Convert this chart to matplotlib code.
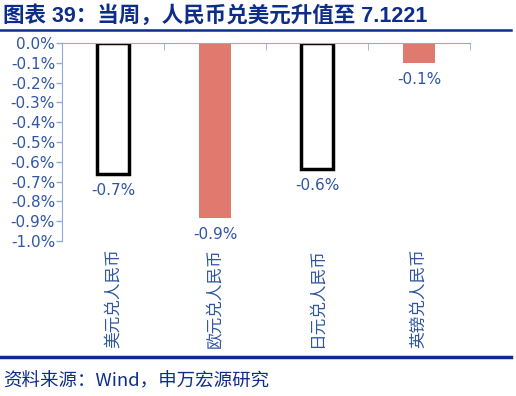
import matplotlib
matplotlib.use('Agg')
import matplotlib.pyplot as plt
import numpy as np

plt.rcParams['font.family'] = ['DejaVu Sans', 'Noto Sans CJK SC']

categories = ['美元兑人民币', '欧元兑人民币', '日元兑人民币', '英镑兑人民币']
values = [-0.66, -0.885, -0.635, -0.10]
labels = ['-0.7%', '-0.9%', '-0.6%', '-0.1%']
hollow = [True, False, True, False]
yticks = [0.0, -0.1, -0.2, -0.3, -0.4, -0.5, -0.6, -0.7, -0.8, -0.9, -1.0]

title_color = '#0C2D8A'
tick_color = '#2F55A4'
axis_color = '#8FAADC'
salmon = '#E07A6E'

fig = plt.figure(figsize=(5.16, 3.96), dpi=100)
ax = fig.add_axes([62 / 516, 1 - 241 / 396, (470 - 62) / 516, (241 - 43) / 396])

x = np.arange(len(categories))
for xi, v, h, lab in zip(x, values, hollow, labels):
    if h:
        ax.bar(xi, v, width=0.32, color='white', edgecolor='black', linewidth=2.5)
    else:
        ax.bar(xi, v, width=0.32, color=salmon, edgecolor='none')
    ax.text(xi, v - 0.045, lab, ha='center', va='top', fontsize=11, color=tick_color)

ax.set_xlim(-0.5, len(categories) - 0.5)
ax.set_ylim(-1.0, 0.0)
ax.set_yticks(yticks)
ax.set_yticklabels(['%.1f%%' % t for t in yticks])
ax.set_xticks(x)
ax.set_xticklabels(categories, rotation=90, fontsize=12, color=tick_color,
                   family=['Noto Sans CJK SC', 'DejaVu Sans'])
ax.set_xticks(np.arange(len(categories) + 1) - 0.5, minor=True)

ax.tick_params(axis='y', colors=axis_color, labelcolor=tick_color, labelsize=11,
               length=4, width=1, pad=1)
ax.tick_params(axis='x', which='major', length=0, pad=5)
ax.tick_params(axis='x', which='minor', top=True, bottom=False, direction='in',
               length=5, color=axis_color)

for s in ['right', 'bottom']:
    ax.spines[s].set_visible(False)
ax.spines['left'].set_color(axis_color)
ax.spines['top'].set_color(axis_color)

fig.text(3 / 516, 1 - 16 / 396, '图表 39：当周，人民币兑美元升值至 7.1221', fontsize=15.5,
         fontweight='bold', color=title_color, va='center', ha='left',
         family=['Liberation Sans', 'Noto Sans CJK SC'])
fig.add_artist(plt.Line2D([0, 511 / 516], [1 - 30 / 396] * 2, color=title_color, lw=1.8))
fig.add_artist(plt.Line2D([0, 511 / 516], [1 - 357 / 396] * 2, color=title_color, lw=2.5))
fig.text(3 / 516, 1 - 381 / 396, '资料来源：Wind，申万宏源研究', fontsize=13.3,
         color=title_color, va='center', ha='left',
         family=['Noto Sans CJK SC', 'DejaVu Sans'])

fig.savefig('out.png', dpi=100)
